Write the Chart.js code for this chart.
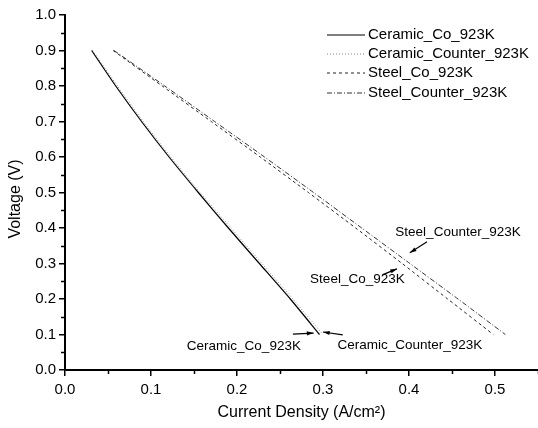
<!DOCTYPE html>
<html lang="en">
<head>
<meta charset="UTF-8">
<title>Voltage vs Current Density</title>
<script src="https://cdn.jsdelivr.net/npm/chart.js@4.4.1/dist/chart.umd.min.js"></script>
<style>
  html, body { margin: 0; padding: 0; background: #fff; }
  #wrap { width: 538px; height: 428px; }
</style>
</head>
<body>
<div id="wrap"><canvas id="myChart" width="538" height="428"></canvas></div>
<script>
// voltage points shared by all curves (V)
const voltage = [0.9, 0.8, 0.7, 0.6, 0.5, 0.4, 0.3, 0.2, 0.1];
// current density for each curve (A/cm2)
const ceramicCo      = [0.031, 0.059, 0.089, 0.121, 0.155, 0.190, 0.226, 0.262, 0.296];
const ceramicCounter = [0.032, 0.061, 0.091, 0.123, 0.157, 0.193, 0.229, 0.265, 0.300];
const steelCo        = [0.056, 0.113, 0.170, 0.227, 0.283, 0.338, 0.392, 0.445, 0.498];
const steelCounter   = [0.057, 0.116, 0.174, 0.232, 0.289, 0.345, 0.401, 0.457, 0.512];
const seriesNames = ['Ceramic_Co_923K', 'Ceramic_Counter_923K', 'Steel_Co_923K', 'Steel_Counter_923K'];

const FONT = '"Liberation Sans", Arial, sans-serif';

function pts(cur) {
    return voltage.map((v, i) => ({ x: cur[i], y: v }));
}

// labels with arrows pointing at the curve ends (data coords)
const notes = [
    { text: 'Ceramic_Co_923K',      tx: 0.208, ty: 0.068, ax: [0.265, 0.101], ah: [0.289, 0.104] },
    { text: 'Ceramic_Counter_923K', tx: 0.401, ty: 0.070, ax: [0.323, 0.099], ah: [0.300, 0.107] },
    { text: 'Steel_Co_923K',        tx: 0.340, ty: 0.256, ax: [0.369, 0.268], ah: [0.386, 0.285] },
    { text: 'Steel_Counter_923K',   tx: 0.457, ty: 0.389, ax: [0.421, 0.361], ah: [0.401, 0.330] }
];

const styles = [
    { color: '#000', width: 1.2, dash: [] },
    { color: '#888', width: 1, dash: [1, 2] },
    { color: '#222', width: 1, dash: [3, 3] },
    { color: '#333', width: 1, dash: [5, 2, 1, 2] }
];

const extras = {
    id: 'extras',
    afterDraw(chart) {
        const c = chart.ctx;
        const xs = chart.scales.x, ys = chart.scales.y;
        const area = chart.chartArea;
        c.save();
        // minor ticks
        c.strokeStyle = '#000';
        c.lineWidth = 1.5;
        for (let v = 0.05; v < 0.56; v += 0.1) {
            const px = Math.round(xs.getPixelForValue(v)) + 0.5;
            c.beginPath(); c.moveTo(px, area.bottom); c.lineTo(px, area.bottom + 4); c.stroke();
        }
        for (let v = 0.05; v < 1; v += 0.1) {
            const py = Math.round(ys.getPixelForValue(v)) + 0.5;
            c.beginPath(); c.moveTo(area.left, py); c.lineTo(area.left - 4, py); c.stroke();
        }
        // y title
        c.fillStyle = '#000';
        c.font = '16px ' + FONT;
        c.textAlign = 'center';
        c.textBaseline = 'middle';
        c.translate(16, 199);
        c.rotate(-Math.PI / 2);
        c.fillText('Voltage (V)', 0, 0);
        c.restore();

        // legend
        c.save();
        c.font = '15px ' + FONT;
        c.textBaseline = 'middle';
        c.textAlign = 'left';
        const rows = [35, 54, 73, 93];
        chart.data.datasets.forEach((ds, i) => {
            c.strokeStyle = ds.borderColor;
            c.lineWidth = ds.borderWidth;
            c.setLineDash(ds.borderDash || []);
            c.beginPath(); c.moveTo(327, rows[i]); c.lineTo(365, rows[i]); c.stroke();
            c.setLineDash([]);
            c.fillStyle = '#000';
            c.fillText(ds.label, 368, rows[i]);
        });
        c.restore();

        // annotations
        c.save();
        c.font = '13.5px ' + FONT;
        c.fillStyle = '#000';
        c.strokeStyle = '#000';
        c.textAlign = 'center';
        c.textBaseline = 'middle';
        c.lineWidth = 1.2;
        notes.forEach(n => {
            c.fillText(n.text, xs.getPixelForValue(n.tx), ys.getPixelForValue(n.ty));
            const x0 = xs.getPixelForValue(n.ax[0]), y0 = ys.getPixelForValue(n.ax[1]);
            const x1 = xs.getPixelForValue(n.ah[0]), y1 = ys.getPixelForValue(n.ah[1]);
            c.beginPath(); c.moveTo(x0, y0); c.lineTo(x1, y1); c.stroke();
            const a = Math.atan2(y1 - y0, x1 - x0);
            c.beginPath();
            c.moveTo(x1, y1);
            c.lineTo(x1 - 7 * Math.cos(a - 0.3), y1 - 7 * Math.sin(a - 0.3));
            c.lineTo(x1 - 7 * Math.cos(a + 0.3), y1 - 7 * Math.sin(a + 0.3));
            c.closePath();
            c.fill();
        });
        c.restore();
    }
};

const allCurves = [ceramicCo, ceramicCounter, steelCo, steelCounter];

const data = {
    datasets: allCurves.map((cur, i) => ({
        label: seriesNames[i],
        data: pts(cur),
        borderColor: styles[i].color,
        borderWidth: styles[i].width,
        borderDash: styles[i].dash,
        pointRadius: 0,
        fill: false,
        tension: 0.2
    }))
};

const config = {
    type: 'scatter',
    data: data,
    options: {
        responsive: false,
        animation: false,
        showLine: true,
        layout: { padding: { top: 15, right: 0, left: 0, bottom: 0 } },
        plugins: {
            legend: { display: false },
            tooltip: { enabled: false }
        },
        scales: {
            x: {
                type: 'linear',
                min: 0,
                max: 0.55,
                afterFit: s => { s.height = 58; },
                border: { color: '#000', width: 2 },
                grid: { drawOnChartArea: false, tickLength: 6, color: '#000', lineWidth: 1.5 },
                ticks: {
                    stepSize: 0.1,
                    includeBounds: false,
                    padding: 5,
                    color: '#000',
                    font: { family: FONT, size: 15 },
                    callback: v => v.toFixed(1)
                },
                title: {
                    display: true,
                    text: 'Current Density (A/cm²)',
                    color: '#000',
                    font: { family: FONT, size: 16 },
                    padding: { top: 0, bottom: 6 }
                }
            },
            y: {
                min: 0,
                max: 1,
                afterFit: s => { s.width = 65; },
                border: { color: '#000', width: 2 },
                grid: { drawOnChartArea: false, tickLength: 6, color: '#000', lineWidth: 1.5 },
                ticks: {
                    stepSize: 0.1,
                    padding: 3,
                    color: '#000',
                    font: { family: FONT, size: 15 },
                    callback: v => v.toFixed(1)
                }
            }
        }
    },
    plugins: [extras]
};

const meuGrafico = new Chart(document.getElementById('myChart').getContext('2d'), config);
</script>
</body>
</html>
